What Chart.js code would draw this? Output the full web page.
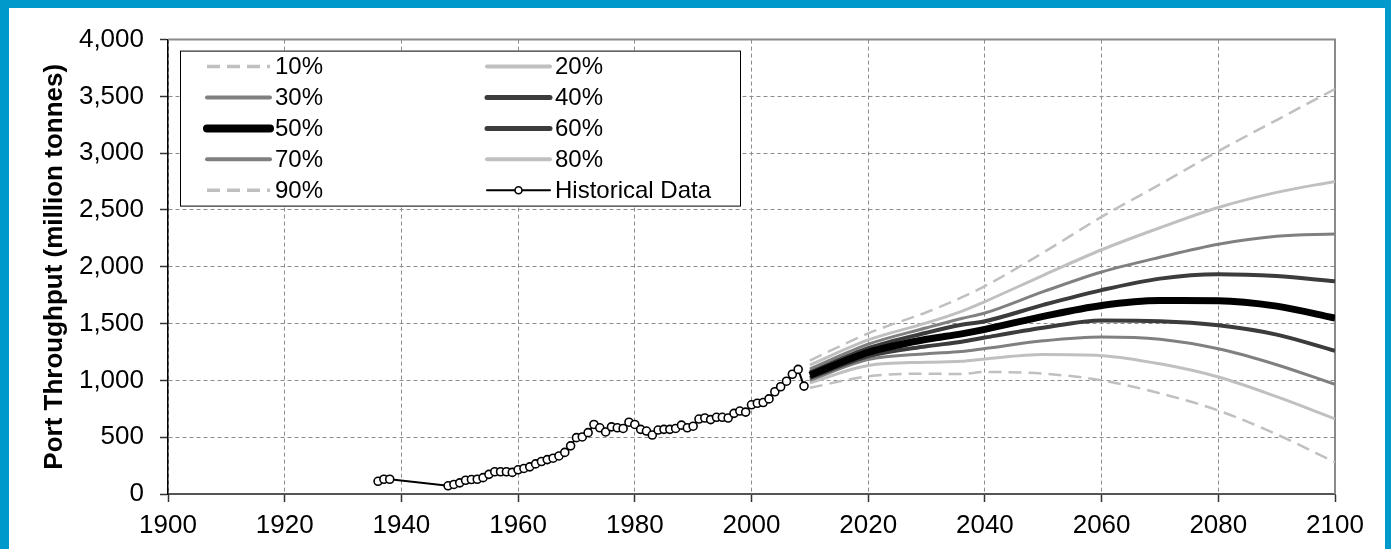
<!DOCTYPE html>
<html>
<head>
<meta charset="utf-8">
<title>Port Throughput</title>
<script src="https://cdn.jsdelivr.net/npm/chart.js@4.4.1/dist/chart.umd.min.js"></script>
<style>
  html, body { margin: 0; padding: 0; background: #0099cc; overflow: hidden; }
  #frame { position: absolute; left: 9px; top: 8px; width: 1376px; height: 541px; background: #fff; }
  canvas { display: block; }
</style>
</head>
<body>
<div id="frame"><canvas id="chart"></canvas></div>
<script>
// Historical port throughput (million tonnes)
const histYears = [1936, 1937, 1938,
    1948, 1949, 1950, 1951, 1952, 1953, 1954, 1955, 1956, 1957, 1958, 1959,
    1960, 1961, 1962, 1963, 1964, 1965, 1966, 1967, 1968, 1969,
    1970, 1971, 1972, 1973, 1974, 1975, 1976, 1977, 1978, 1979,
    1980, 1981, 1982, 1983, 1984, 1985, 1986, 1987, 1988, 1989,
    1990, 1991, 1992, 1993, 1994, 1995, 1996, 1997, 1998, 1999,
    2000, 2001, 2002, 2003, 2004, 2005, 2006, 2007, 2008, 2009];
const histValues = [112, 130, 130,
    72, 84, 98, 121, 127, 130, 144, 173, 196, 196, 196, 190,
    213, 225, 239, 265, 286, 303, 315, 335, 366, 424,
    496, 502, 540, 612, 583, 546, 591, 583, 577, 632,
    612, 569, 554, 519, 563, 569, 569, 577, 606, 583,
    597, 660, 669, 655, 675, 675, 669, 710, 730, 721,
    785, 799, 805, 837, 900, 944, 993, 1054, 1097, 950];

// Projection percentiles
const projYears = [2010, 2020, 2030, 2036, 2040, 2050, 2060, 2070, 2080, 2090, 2100];
const p10 = [935, 1036, 1059, 1056, 1074, 1059, 1001, 886, 735, 525, 280];
const p20 = [978, 1131, 1160, 1168, 1189, 1227, 1218, 1146, 1030, 857, 662];
const p30 = [1001, 1183, 1235, 1255, 1281, 1348, 1382, 1362, 1278, 1138, 965];
const p40 = [1022, 1212, 1300, 1340, 1377, 1463, 1527, 1521, 1485, 1403, 1260];
const p50 = [1045, 1247, 1362, 1410, 1449, 1564, 1660, 1703, 1702, 1654, 1548];
const p60 = [1070, 1284, 1420, 1490, 1521, 1665, 1795, 1896, 1935, 1918, 1872];
const p70 = [1100, 1319, 1463, 1545, 1593, 1781, 1954, 2084, 2199, 2269, 2288];
const p80 = [1135, 1356, 1506, 1608, 1694, 1925, 2150, 2344, 2522, 2655, 2752];
const p90 = [1175, 1414, 1600, 1730, 1830, 2125, 2440, 2725, 3018, 3292, 3565];

const xRange = [1900, 2100];
const yRange = [0, 4000];
const xStep = 20;
const yStep = 500;
const yTitle = "Port Throughput (million tonnes)";

const FONT = "'Liberation Sans', Arial, sans-serif";
const LIGHT = "#c0c0c0";
const MID = "#808080";
const DARK = "#3c3c3c";

function band(label, values, color, width, dash, order) {
    return {
        label: label,
        data: projYears.map((x, i) => ({ x: x, y: values[i] })),
        borderColor: color,
        borderWidth: width,
        borderDash: dash || [],
        borderCapStyle: "butt",
        pointRadius: 0,
        cubicInterpolationMode: "monotone",
        fill: false,
        order: order,
    };
}

const datasets = [
    band("10%", p10, LIGHT, 2.5, [13, 7], 5),
    band("20%", p20, LIGHT, 3, null, 4),
    band("30%", p30, MID, 3, null, 3),
    band("40%", p40, DARK, 4, null, 2),
    band("50%", p50, "#000", 7, null, 1),
    band("60%", p60, DARK, 4, null, 2),
    band("70%", p70, MID, 3, null, 3),
    band("80%", p80, LIGHT, 3, null, 4),
    band("90%", p90, LIGHT, 2.5, [13, 7], 5),
    {
        label: "Historical Data",
        data: histYears.map((x, i) => ({ x: x, y: histValues[i] })),
        borderColor: "#000",
        borderWidth: 2,
        pointRadius: 4,
        pointBackgroundColor: "#fff",
        pointBorderColor: "#000",
        pointBorderWidth: 1.6,
        tension: 0,
        fill: false,
        order: 0,
    },
];

// grey top/right edge of the plot area
const plotFrame = {
    id: "plotFrame",
    beforeDatasetsDraw(chart) {
        const { ctx, chartArea: a } = chart;
        ctx.save();
        ctx.strokeStyle = "#8a8a8a";
        ctx.lineWidth = 2;
        ctx.beginPath();
        ctx.moveTo(a.left, a.top);
        ctx.lineTo(a.right, a.top);
        ctx.lineTo(a.right, a.bottom);
        ctx.stroke();
        ctx.restore();
    },
};

// boxed two-column legend inside the plot area
const gridLegend = {
    id: "gridLegend",
    afterDatasetsDraw(chart, args, opts) {
        const { ctx, chartArea: a } = chart;
        const x0 = a.left + opts.left;
        const y0 = a.top + opts.top;
        ctx.save();
        ctx.fillStyle = "#fff";
        ctx.fillRect(x0, y0, opts.width, opts.height);
        ctx.strokeStyle = "#000";
        ctx.lineWidth = 1;
        ctx.strokeRect(x0 + 0.5, y0 + 0.5, opts.width, opts.height);
        ctx.font = opts.font;
        ctx.textBaseline = "middle";
        chart.data.datasets.forEach((ds, i) => {
            const col = i % 2;
            const row = Math.floor(i / 2);
            const cy = y0 + opts.firstRow + row * opts.rowGap;
            const lx = x0 + opts.sampleLeft + col * opts.colGap;
            const rx = lx + opts.sampleWidth;
            ctx.save();
            ctx.strokeStyle = ds.borderColor;
            ctx.lineWidth = ds.borderWidth + (ds.pointRadius ? 0 : 1);
            const dashed = ds.borderDash && ds.borderDash.length;
            ctx.setLineDash(dashed ? ds.borderDash : []);
            ctx.lineCap = dashed ? "butt" : "round";
            ctx.beginPath();
            ctx.moveTo(lx, cy);
            ctx.lineTo(rx, cy);
            ctx.stroke();
            if (ds.pointRadius) {
                ctx.setLineDash([]);
                ctx.beginPath();
                ctx.arc((lx + rx) / 2, cy, 3.5, 0, Math.PI * 2);
                ctx.fillStyle = ds.pointBackgroundColor;
                ctx.fill();
                ctx.lineWidth = ds.pointBorderWidth;
                ctx.strokeStyle = ds.pointBorderColor;
                ctx.stroke();
            }
            ctx.restore();
            ctx.fillStyle = "#000";
            ctx.fillText(ds.label, rx + 5, cy + 1);
        });
        ctx.restore();
    },
};

new Chart(document.getElementById("chart"), {
    type: "line",
    data: { datasets: datasets },
    plugins: [plotFrame, gridLegend],
    options: {
        responsive: true,
        maintainAspectRatio: false,
        animation: false,
        layout: { padding: { left: 0, top: 24, right: 50, bottom: 0 } },
        plugins: {
            legend: { display: false },
            tooltip: { enabled: false },
            gridLegend: {
                left: 12, top: 11, width: 560, height: 155,
                firstRow: 16, rowGap: 30.9,
                sampleLeft: 27, sampleWidth: 63, colGap: 280,
                font: "24px " + FONT,
            },
        },
        scales: {
            x: {
                type: "linear",
                min: xRange[0],
                max: xRange[1],
                afterFit: (s) => { s.height = 55; },
                ticks: {
                    stepSize: xStep,
                    padding: 8,
                    color: "#000",
                    font: { family: FONT, size: 26 },
                    callback: (v) => String(v),
                },
                grid: {
                    color: "#8c8c8c",
                    lineWidth: 1,
                    tickLength: 8,
                    tickColor: "#333",
                    tickWidth: 1.5,
                },
                border: { color: "#555", width: 2, dash: [4, 3] },
            },
            y: {
                type: "linear",
                min: yRange[0],
                max: yRange[1],
                afterFit: (s) => { s.width = 159; },
                ticks: {
                    stepSize: yStep,
                    padding: 16,
                    color: "#000",
                    font: { family: FONT, size: 26 },
                },
                grid: {
                    color: "#8c8c8c",
                    lineWidth: 1,
                    tickLength: 8,
                    tickColor: "#333",
                    tickWidth: 1.5,
                },
                border: { color: "#000", width: 1.5, dash: [4, 3] },
                title: {
                    display: true,
                    text: yTitle,
                    color: "#000",
                    font: { family: FONT, size: 26, weight: "bold" },
                    padding: { top: 30, bottom: 0 },
                },
            },
        },
    },
});
</script>
</body>
</html>
